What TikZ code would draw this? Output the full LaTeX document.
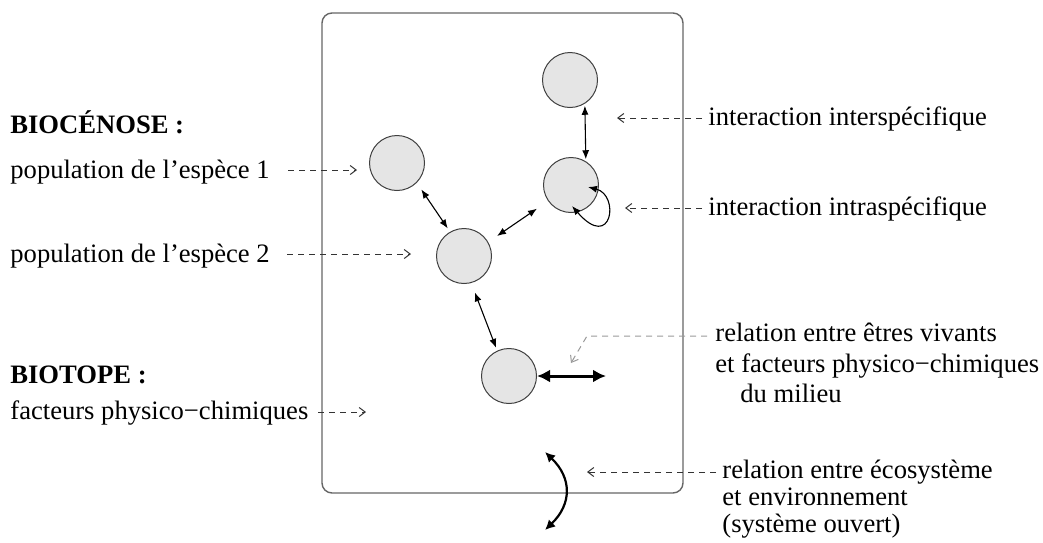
\documentclass[tikz,border=0pt]{standalone}
\usepackage{fontspec}
\setmainfont{Liberation Serif}
\usetikzlibrary{arrows.meta}
\begin{document}
\begin{tikzpicture}[x=0.5pt,y=-0.5pt,
  txt/.style={font=\fontsize{13.3}{15.5}\selectfont, inner sep=0pt, anchor=base west},
  cell/.style={circle, draw=black!75, fill=gray!20, minimum size=27.5pt, inner sep=0pt, line width=0.5pt},
  link/.style={{Latex[length=4.5pt,width=3.5pt]}-{Latex[length=4.5pt,width=3.5pt]}, line width=0.55pt},
  biglink/.style={{Latex[length=6.5pt,width=6.5pt]}-{Latex[length=6.5pt,width=6.5pt]}, line width=1.5pt},
  curvlink/.style={{Latex[length=5pt,width=5pt]}-{Latex[length=5pt,width=5pt]}, line width=1.1pt},
  dasharr/.style={-{Straight Barb[length=3pt,width=4.5pt]}, dash pattern=on 3pt off 2.5pt, line width=0.5pt, draw=black!80},
  lightarr/.style={-{Straight Barb[length=3pt,width=4.5pt]}, dash pattern=on 3pt off 2.5pt, line width=0.5pt, draw=black!40}
]
\useasboundingbox (0,0) rectangle (1043,542);

% frame
\draw[draw=black!60, line width=0.7pt, rounded corners=5pt] (322,13) rectangle (683,493);

% circles
\node[cell] (C1) at (570,80) {};
\node[cell] (C2) at (571,185) {};
\node[cell] (S1) at (397,163) {};
\node[cell] (S2) at (464,256) {};
\node[cell] (B)  at (509,376) {};

% left texts
\node[txt] (bioc) at (10,133) {\textbf{BIOCÉNOSE :}};
\node[txt] (pop1) at (10,178) {population de l’espèce 1};
\node[txt] (pop2) at (10,262) {population de l’espèce 2};
\node[txt] (biot) at (10,383) {\textbf{BIOTOPE :}};
\node[txt] (fact) at (10,419) {facteurs physico−chimiques};

% right texts
\node[txt] (inter) at (708,125) {interaction interspécifique};
\node[txt] (intra) at (708,215) {interaction intraspécifique};
\node[txt] (rel1) at (715,341) {relation entre êtres vivants};
\node[txt] (rel2) at (715,372) {et facteurs physico−chimiques};
\node[txt] (rel3) at (740,402) {du milieu};
\node[txt] (eco1) at (722,478) {relation entre écosystème};
\node[txt] (eco2) at (722,505) {et environnement};
\node[txt] (eco3) at (722,532) {(système ouvert)};

% arrow end coordinates
\coordinate (p1s) at (288,170); \coordinate (p1e) at (357,170);
\coordinate (p2s) at (287,254); \coordinate (p2e) at (411,254);
\coordinate (fs) at (318,412);  \coordinate (fe) at (366,412);
\coordinate (ins) at (702,118); \coordinate (ine) at (617,118);
\coordinate (ias) at (702,208); \coordinate (iae) at (625,208);
\coordinate (rs) at (707,336); \coordinate (rm) at (587,336); \coordinate (re) at (571,363);
\coordinate (es) at (716,472); \coordinate (ee) at (587,472);
\coordinate (bt) at (606,376);
\coordinate (ct) at (545,452); \coordinate (cb) at (545,530);

% dashed label arrows
\draw[dasharr] (p1s) -- (p1e);
\draw[dasharr] (p2s) -- (p2e);
\draw[dasharr] (fs) -- (fe);
\draw[dasharr] (ins) -- (ine);
\draw[dasharr] (ias) -- (iae);
\draw[lightarr] (rs) -- (rm) -- (re);
\draw[dasharr] (es) -- (ee);

% interactions
\draw[link, shorten <=1pt, shorten >=1pt] (C1.-58) -- (C2.58);
\draw[link, shorten <=4pt, shorten >=2pt] (S1.-45) -- (S2.120);
\draw[link, shorten <=5.3pt, shorten >=6.7pt] (S2.30) -- (C2.215);
\draw[link, shorten <=5pt, shorten >=1.5pt] (S2.-75) -- (B.115);
\draw[link] ([shift={(8.5pt,-1pt)}]C2.center) .. controls (620,195) and (612,252) .. ([shift={(0.5pt,-10.5pt)}]C2.center);
\draw[biglink] (B.east) -- (bt);
\draw[curvlink] (ct) .. controls (572,478) and (572,504) .. (cb);
\end{tikzpicture}
\end{document}
